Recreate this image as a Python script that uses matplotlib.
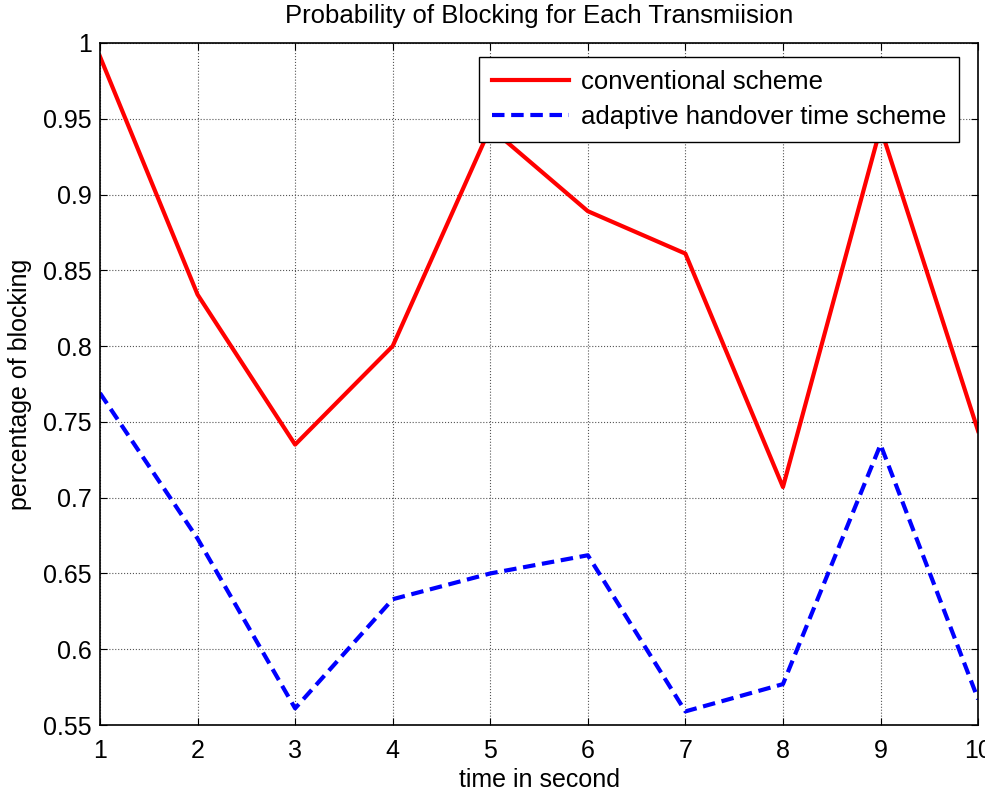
import numpy as np
import matplotlib
matplotlib.use("Agg")
import matplotlib.pyplot as plt

plt.rcParams['font.family'] = ['Liberation Sans', 'DejaVu Sans']

t = [1, 2, 3, 4, 5, 6, 7, 8, 9, 10]
conventional = [0.991, 0.834, 0.735, 0.800, 0.944, 0.889, 0.861, 0.707, 0.944, 0.744]
adaptive = [0.769, 0.673, 0.561, 0.633, 0.650, 0.662, 0.559, 0.577, 0.735, 0.567]

fig = plt.figure(figsize=(9.85, 7.95), dpi=100)
ax = fig.add_axes([0.1015, 0.088, 0.8915, 0.858])

ax.plot(t, conventional, color='red', linewidth=3, label='conventional scheme')
ax.plot(t, adaptive, color='blue', linewidth=3, linestyle=(0, (3, 1.6)),
        label='adaptive handover time scheme')

ax.set_xlim(1, 10)
ax.set_ylim(0.55, 1.0)
ax.set_xticks(t)
ax.set_yticks(np.arange(0.55, 1.001, 0.05))
ax.set_yticklabels(['0.55', '0.6', '0.65', '0.7', '0.75', '0.8', '0.85', '0.9', '0.95', '1'])
ax.grid(True, color='#555555', linestyle=':', linewidth=0.8)
ax.tick_params(labelsize=18, direction='in', length=5, top=True, right=True)
ax.tick_params(axis='y', pad=6)
ax.tick_params(axis='x', pad=10)
for s in ax.spines.values():
    s.set_linewidth(1.2)

ax.set_title('Probability of Blocking for Each Transmiision', fontsize=18.5, pad=14)
ax.set_xlabel('time in second', fontsize=18, labelpad=4)
ax.set_ylabel('percentage of blocking', fontsize=18, labelpad=8)

leg = ax.legend(loc='upper right', bbox_to_anchor=(0.978, 0.9795), borderaxespad=0,
                fontsize=18.5, fancybox=False, framealpha=1, edgecolor='black',
                handlelength=3.0, borderpad=0.5, labelspacing=0.45,
                handletextpad=0.45)
leg.get_frame().set_linewidth(1.0)

fig.savefig('out.png', dpi=100)
